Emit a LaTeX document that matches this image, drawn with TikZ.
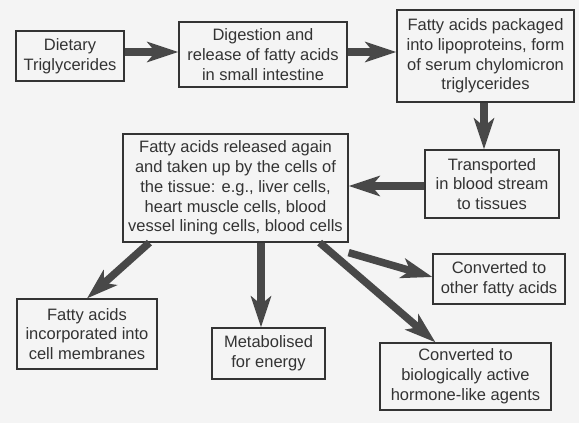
\documentclass[tikz,border=0pt]{standalone}
\usepackage{xcolor}
\usepackage{fontspec}
\setmainfont{Liberation Sans}
\usepackage{tikz}
\usetikzlibrary{arrows.meta, positioning}
\definecolor{paper}{RGB}{244,244,244}
\definecolor{ink}{RGB}{51,51,51}
\definecolor{shaft}{RGB}{72,72,72}
\tikzstyle{stage} = [rectangle, draw=ink, line width=1.2pt, text=ink, align=center, inner sep=0pt, font=\fontsize{16.5}{19.8}\selectfont]
\tikzstyle{arrow} = [draw=shaft, line width=7.5pt, -{Stealth[length=31pt, width=20pt, inset=8pt]}]

\begin{document}
\begin{tikzpicture}[x=1pt, y=-1pt]
    \fill [paper] (0,0) rectangle (579,423);
    \useasboundingbox (0,0) rectangle (579,423);

    \node (diet) [stage, minimum width=108pt, minimum height=50pt] at (70,56) {Dietary\\Triglycerides};
    \node (digest) [stage, minimum width=168pt, minimum height=65pt] at (263,54.5) {Digestion and\\release of fatty acids\\in small intestine};
    \node (pack) [stage, minimum width=177pt, minimum height=92pt] at (485.5,56) {Fatty acids packaged\\into lipoproteins, form\\of serum chylomicron\\triglycerides};
    \node (transp) [stage, minimum width=134pt, minimum height=68pt] at (492,184) {Transported\\in blood stream\\to tissues};
    \node (uptake) [stage, minimum width=225pt, minimum height=108pt] at (235.5,188) {Fatty acids released again\\and taken up by the cells of\\the tissue: e.g., liver cells,\\heart muscle cells, blood\\vessel lining cells, blood cells};
    \node (other) [stage, minimum width=132pt, minimum height=50pt] at (499,279) {Converted to\\other fatty acids};
    \node (membr) [stage, minimum width=140pt, minimum height=70pt] at (87,334) {Fatty acids\\incorporated into\\cell membranes};
    \node (energy) [stage, minimum width=113pt, minimum height=51pt] at (268.5,353.5) {Metabolised\\for energy};
    \node (hormone) [stage, minimum width=171pt, minimum height=67pt] at (465.5,376.5) {Converted to\\biologically active\\hormone-like agents};

    \draw [arrow] ([yshift=4pt]diet.east) -- ([yshift=4pt]diet.east -| digest.west);
    \draw [arrow] ([yshift=2.5pt]digest.east) -- ([yshift=2.5pt]digest.east -| pack.west);
    \draw [arrow] ([xshift=-1.5pt]pack.south) -- ([xshift=-1.5pt]pack.south |- transp.north);
    \draw [arrow] ([yshift=-2pt]transp.west) -- ([yshift=-2pt]transp.west -| uptake.east);
    \draw [arrow] ([xshift=27pt]uptake.south west) -- (membr.north);
    \draw [arrow] ([xshift=-7.5pt]energy.north |- uptake.south) -- ([xshift=-7.5pt]energy.north);
    \draw [arrow] ([yshift=-10pt]uptake.south east) -- ([yshift=2pt]other.west);
    \draw [arrow] ([xshift=-29pt]uptake.south east) -- ([xshift=-30pt]hormone.north);
\end{tikzpicture}
\end{document}
